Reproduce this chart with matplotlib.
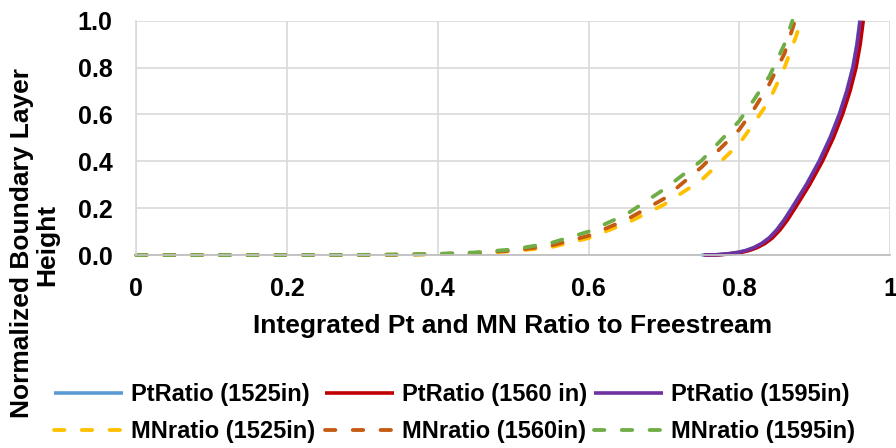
import matplotlib
matplotlib.use("Agg")
import matplotlib.pyplot as plt

plt.rcParams['font.family'] = ['Liberation Sans', 'DejaVu Sans']
plt.rcParams['font.weight'] = 'bold'
plt.rcParams['lines.scale_dashes'] = False

# ---- data ----
pt_y      = [0.000, 0.001, 0.005, 0.012, 0.020, 0.032, 0.049, 0.073, 0.107, 0.150, 0.200, 0.300, 0.400, 0.500, 0.600, 0.700, 0.800, 0.900, 1.000]
pt_1525_x = [0.750, 0.7695, 0.7845, 0.7995, 0.8095, 0.8195, 0.8295, 0.8395, 0.8495, 0.8595, 0.8695, 0.8888, 0.9058, 0.9203, 0.9325, 0.9425, 0.9505, 0.9560, 0.9600]
pt_1560_x = [0.755, 0.7740, 0.7890, 0.8040, 0.8140, 0.8240, 0.8340, 0.8440, 0.8540, 0.8640, 0.8740, 0.8933, 0.9103, 0.9248, 0.9370, 0.9470, 0.9550, 0.9605, 0.9645]
pt_1595_x = [0.753, 0.7700, 0.7850, 0.8000, 0.8100, 0.8200, 0.8300, 0.8400, 0.8500, 0.8600, 0.8700, 0.8893, 0.9063, 0.9208, 0.9330, 0.9430, 0.9510, 0.9565, 0.9605]

mn_x_common = [0.0, 0.1, 0.2, 0.3, 0.35, 0.4, 0.45, 0.5, 0.55, 0.6, 0.65, 0.7, 0.75, 0.8, 0.82, 0.84, 0.86]
mn_1525_x = mn_x_common + [0.875, 0.881]
mn_1525_y = [0, 0, 0, 0.0003, 0.001, 0.0035, 0.008, 0.016, 0.033, 0.072, 0.135, 0.215, 0.320, 0.475, 0.565, 0.660, 0.800, 0.930, 0.990]
mn_1560_x = mn_x_common + [0.874]
mn_1560_y = [0, 0, 0, 0.0004, 0.0015, 0.004, 0.009, 0.019, 0.040, 0.082, 0.150, 0.240, 0.375, 0.535, 0.625, 0.730, 0.860, 1.000]
mn_1595_x = mn_x_common + [0.8705]
mn_1595_y = [0, 0, 0, 0.0005, 0.002, 0.005, 0.011, 0.024, 0.051, 0.100, 0.173, 0.280, 0.403, 0.572, 0.665, 0.763, 0.900, 1.000]

x_ticks = [0, 0.2, 0.4, 0.6, 0.8, 1.0]
x_tick_labels = ['0', '0.2', '0.4', '0.6', '0.8', '1']
y_ticks = [0, 0.2, 0.4, 0.6, 0.8, 1.0]
y_tick_labels = ['0.0', '0.2', '0.4', '0.6', '0.8', '1.0']

W, H = 896, 448
fig = plt.figure(figsize=(W / 100, H / 100), dpi=100)
x0, x1, yb, yt = 136.3, 890.0, 255.0, 20.7
ax = fig.add_axes([x0 / W, 1 - yb / H, (x1 - x0) / W, (yb - yt) / H])

solid_lw = 2.6
dash_lw = 2.75
dash = (0, (7.5, 12.5))

l1, = ax.plot(pt_1525_x, pt_y, color='#5B9BD5', lw=solid_lw, label='PtRatio (1525in)', clip_on=False, solid_capstyle='butt')
l2, = ax.plot(pt_1560_x, pt_y, color='#C00000', lw=solid_lw, label='PtRatio (1560 in)', clip_on=False, solid_capstyle='butt')
l3, = ax.plot(pt_1595_x, pt_y, color='#7030A0', lw=solid_lw, label='PtRatio (1595in)', clip_on=False, solid_capstyle='butt')
d1, = ax.plot(mn_1525_x, mn_1525_y, color='#FFC000', lw=dash_lw, ls=dash, dash_capstyle='round', label='MNratio (1525in)', clip_on=False)
d2, = ax.plot(mn_1560_x, mn_1560_y, color='#C55A11', lw=dash_lw, ls=dash, dash_capstyle='round', label='MNratio (1560in)', clip_on=False)
d3, = ax.plot(mn_1595_x, mn_1595_y, color='#70AD47', lw=dash_lw, ls=dash, dash_capstyle='round', label='MNratio (1595in)', clip_on=False)

ax.set_xlim(0, 1)
ax.set_ylim(0, 1)
ax.set_xticks(x_ticks)
ax.set_xticklabels(x_tick_labels)
ax.set_yticks(y_ticks)
ax.set_yticklabels(y_tick_labels)
ax.tick_params(axis='both', length=0, labelsize=18)
ax.tick_params(axis='x', pad=15.5)
ax.tick_params(axis='y', pad=17)
for lab in ax.get_xticklabels() + ax.get_yticklabels():
    lab.set_fontweight('bold')

ax.grid(True, color='#D9D9D9', lw=1.2)
ax.set_axisbelow(True)
for s in ['top', 'right']:
    ax.spines[s].set_visible(False)
ax.spines['bottom'].set_color('#BFBFBF')
ax.spines['bottom'].set_linewidth(1.3)
ax.spines['left'].set_color('#D9D9D9')
ax.spines['left'].set_linewidth(1.2)

fig.text(513 / W, 1 - 333 / H, 'Integrated Pt and MN Ratio to Freestream',
         ha='center', va='baseline', fontsize=19, fontweight='bold')
fig.text(22 / W, 1 - 243 / H, 'Normalized Boundary Layer', rotation=90,
         ha='center', va='center', fontsize=19, fontweight='bold')
fig.text(47 / W, 1 - 245 / H, 'Height', rotation=90,
         ha='center', va='center', fontsize=19, fontweight='bold')

cols = [(54, [l1, d1]), (325, [l2, d2]), (594, [l3, d3])]
for cx, handles in cols:
    leg = fig.legend(handles=handles, loc='center left',
                     bbox_to_anchor=(cx / W, 1 - 413 / H),
                     frameon=False, borderpad=0, borderaxespad=0,
                     handlelength=2.92, handletextpad=0.34, labelspacing=0.6,
                     prop={'size': 17, 'weight': 'bold'})

fig.savefig('out.png', dpi=100)
